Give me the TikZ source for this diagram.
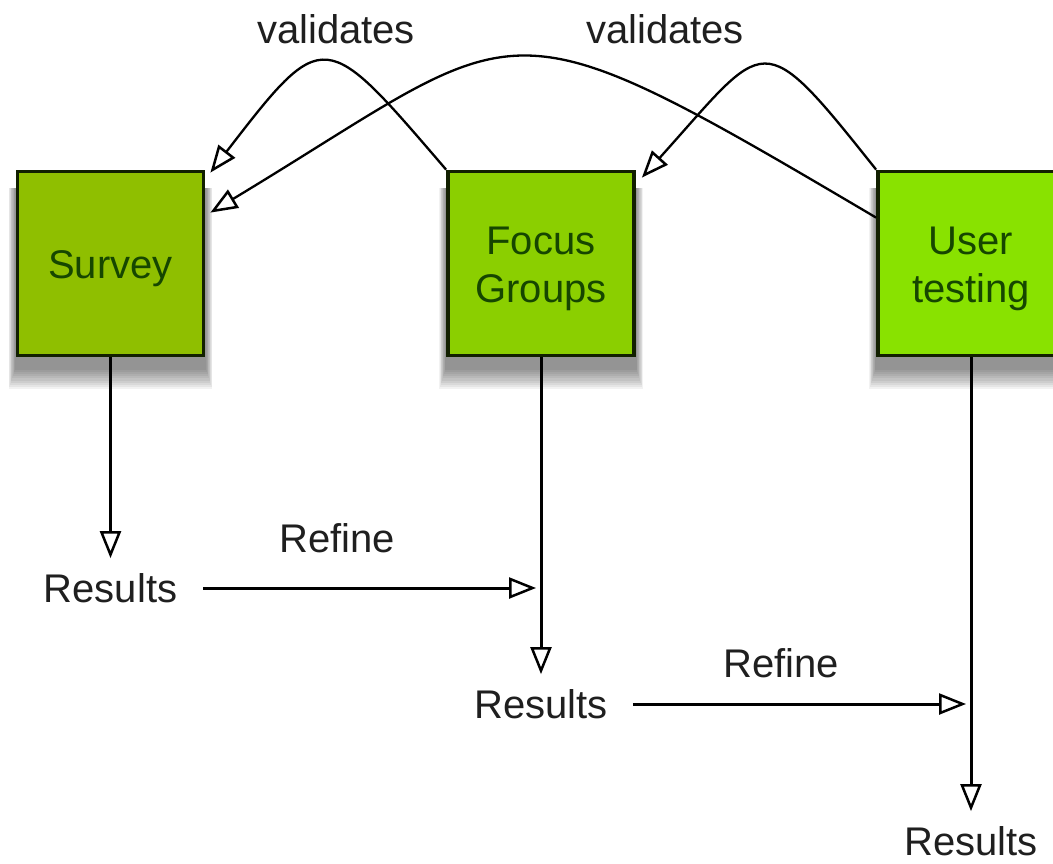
\documentclass[tikz,border=0pt]{standalone}
\usepackage{fontspec}
\setmainfont{Liberation Sans}
\usetikzlibrary{arrows.meta,calc,backgrounds}
\definecolor{surveyfill}{RGB}{143,191,0}
\definecolor{focusfill}{RGB}{139,207,0}
\definecolor{userfill}{RGB}{137,226,0}
\definecolor{boxtext}{RGB}{22,70,0}
\definecolor{boxline}{RGB}{18,32,0}
\newcommand{\boxstrut}{\rule{0pt}{39pt}}
\begin{document}
\begin{tikzpicture}[x=1pt,y=-1pt,
  box/.style={draw=boxline, line width=3.8pt, minimum width=186pt, minimum height=184pt,
    text=boxtext, align=center, font=\fontsize{40}{48}\selectfont, inner sep=0pt},
  lbl/.style={font=\fontsize{40}{48}\selectfont, text=black!88, inner sep=3pt},
  tipopen/.style={-{Triangle[open, length=27pt, width=21pt, line width=2.5pt]}},
  conn/.style={line width=3pt, tipopen, shorten >=12pt},
  refine/.style={line width=3pt, tipopen},
  arc/.style={line width=2.3pt, tipopen},
]
\useasboundingbox (0,0) rectangle (1053,863);

% boxes
\node[box, fill=surveyfill] (survey) at (110.5,263.5) {\boxstrut Survey};
\node[box, fill=focusfill] (focus) at (541,263.5) {\boxstrut Focus\\Groups};
\node[box, fill=userfill] (user) at (971,263.5) {\boxstrut User\\testing};

% white page and shadows
\begin{scope}[on background layer]
\fill[white] (0,0) rectangle (1053,863);
\foreach \b in {survey,focus,user} {
  \foreach \i in {0,...,9} {
    \fill[black, opacity=0.05] ($(\b.north west)+(-7+0.7*\i,18)$) rectangle ($(\b.south east)+(7-0.7*\i,32-2.2*\i)$);
  }
}
\end{scope}

% labels
\node[lbl] (val1) at (336,29) {validates};
\node[lbl] (val2) at (665,29) {validates};
\node[lbl] (ref1) at (337,538) {Refine};
\node[lbl] (ref2) at (781,663) {Refine};
\node[lbl] (res1) at (110.5,588) {Results};
\node[lbl] (res2) at (541,704) {Results};
\node[lbl] (res3) at (971,841) {Results};

% vertical connectors
\draw[conn] (survey.south) -- (res1.north);
\draw[conn] (focus.south) -- (res2.north);
\draw[conn] (user.south) -- (res3.north);

% refine connectors
\coordinate (t1) at ($(focus.south |- res1.east)+(-5,0)$);
\coordinate (t2) at ($(user.south |- res2.east)+(-5,0)$);
\draw[refine] ([xshift=23pt]res1.east) -- (t1);
\draw[refine] ([xshift=22pt]res2.east) -- (t2);

% validates arcs
\draw[arc] (focus.north west) .. controls +(-122,-142) and +(114,-148) .. ([shift={(5,3)}]survey.north east);
\draw[arc] ([shift={(0,48)}]user.north west) .. controls +(-386,-228) and +(320,-193) .. ([shift={(5,43)}]survey.north east);
\draw[arc] (user.north west) .. controls +(-117,-147) and +(126,-140) .. ([shift={(6,8)}]focus.north east);
\end{tikzpicture}
\end{document}
